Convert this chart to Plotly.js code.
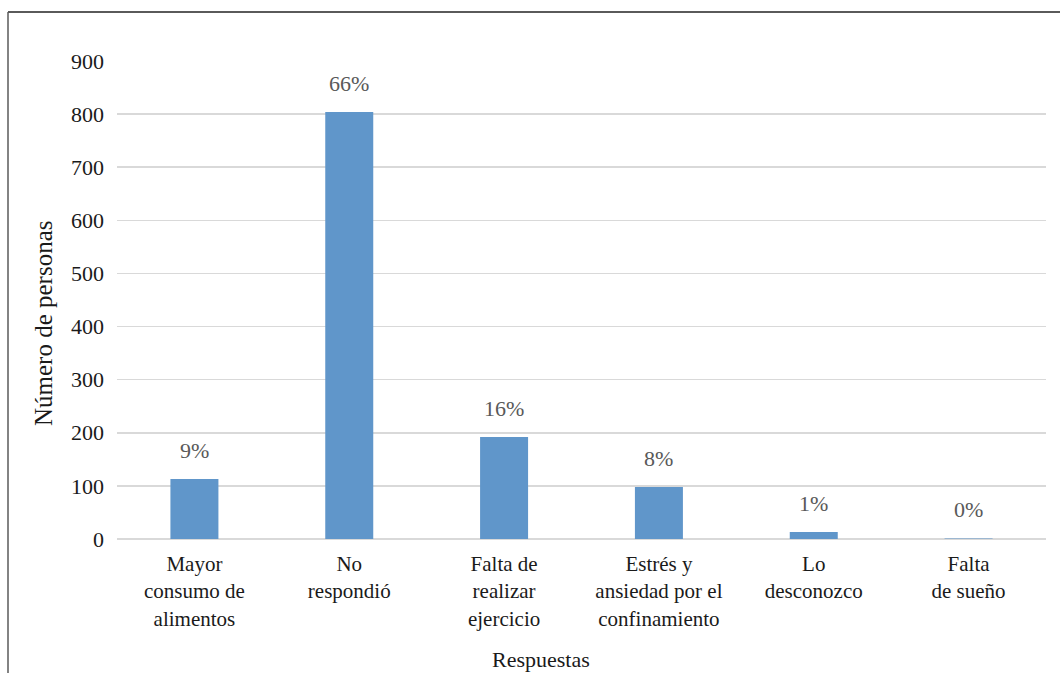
<!DOCTYPE html>
<html>
<head>
<meta charset="utf-8">
<script src="https://cdn.plot.ly/plotly-3.0.1.min.js"></script>
<style>
  html, body { margin: 0; padding: 0; background: #ffffff; }
  #chart { width: 1060px; height: 673px; }
</style>
</head>
<body>
<div id="chart"></div>
<script>
// Response categories (tick labels, with line breaks as shown under each bar)
const categories = [
  'Mayor<br>consumo de<br>alimentos',
  'No<br>respondió',
  'Falta de<br>realizar<br>ejercicio',
  'Estrés y<br>ansiedad por el<br>confinamiento',
  'Lo<br>desconozco',
  'Falta<br>de sueño'
];
// Number of people per response
const counts = [113, 804, 192, 98, 13, 1];
const yTicks = [0, 100, 200, 300, 400, 500, 600, 700, 800, 900];

const total = counts.reduce((a, b) => a + b, 0);
const pctLabels = counts.map(v => Math.round(v / total * 100) + '%');

const serif = 'Liberation Serif, DejaVu Serif, serif';

const trace = {
  type: 'bar',
  x: categories,
  y: counts,
  marker: { color: '#6096ca' },
  width: 0.31,
  hoverinfo: 'skip'
};

// Percentage labels sit above each bar
const pctAnnotations = categories.map((c, i) => ({
  x: c, y: counts[i], xref: 'x', yref: 'y',
  text: pctLabels[i], showarrow: false,
  yanchor: 'bottom', yshift: 14,
  font: { family: serif, size: 22, color: '#595959' }
}));

const layout = {
  width: 1060,
  height: 673,
  margin: { l: 117, r: 14, t: 61, b: 134 },
  paper_bgcolor: '#ffffff',
  plot_bgcolor: '#ffffff',
  showlegend: false,
  bargap: 0.69,
  xaxis: {
    type: 'category',
    showgrid: false,
    showline: false,
    zeroline: false,
    ticks: '',
    ticklabelstandoff: 10,
    tickfont: { family: serif, size: 21, color: '#1a1a1a' },
    fixedrange: true
  },
  yaxis: {
    range: [0, 900],
    tickvals: yTicks,
    ticktext: yTicks.map(String),
    showgrid: true,
    gridcolor: '#d9d9d9',
    gridwidth: 1.6,
    zeroline: true,
    zerolinecolor: '#d9d9d9',
    zerolinewidth: 1.6,
    showline: false,
    ticks: '',
    ticklabelstandoff: 12,
    tickfont: { family: serif, size: 22, color: '#1a1a1a' },
    fixedrange: true
  },
  annotations: pctAnnotations.concat([
    {
      xref: 'paper', yref: 'paper',
      x: (44 - 117) / 929, y: (539 - 323) / 478,
      text: 'Número de personas', textangle: -90, showarrow: false,
      xanchor: 'center', yanchor: 'middle',
      font: { family: serif, size: 25, color: '#1a1a1a' }
    },
    {
      xref: 'paper', yref: 'paper',
      x: (541 - 117) / 929, y: (539 - 659) / 478,
      text: 'Respuestas', showarrow: false,
      xanchor: 'center', yanchor: 'middle',
      font: { family: serif, size: 22, color: '#1a1a1a' }
    }
  ]),
  shapes: [
    // outer frame: top and left edges
    {
      type: 'line', xref: 'paper', yref: 'paper',
      x0: (8 - 117) / 929, x1: (1065 - 117) / 929,
      y0: (539 - 12) / 478, y1: (539 - 12) / 478,
      line: { color: '#5a5a5a', width: 1.8 }
    },
    {
      type: 'line', xref: 'paper', yref: 'paper',
      x0: (8 - 117) / 929, x1: (8 - 117) / 929,
      y0: (539 - 12) / 478, y1: (539 - 680) / 478,
      line: { color: '#5a5a5a', width: 1.5 }
    }
  ]
};

Plotly.newPlot('chart', [trace], layout, { displayModeBar: false, staticPlot: true });
</script>
</body>
</html>
